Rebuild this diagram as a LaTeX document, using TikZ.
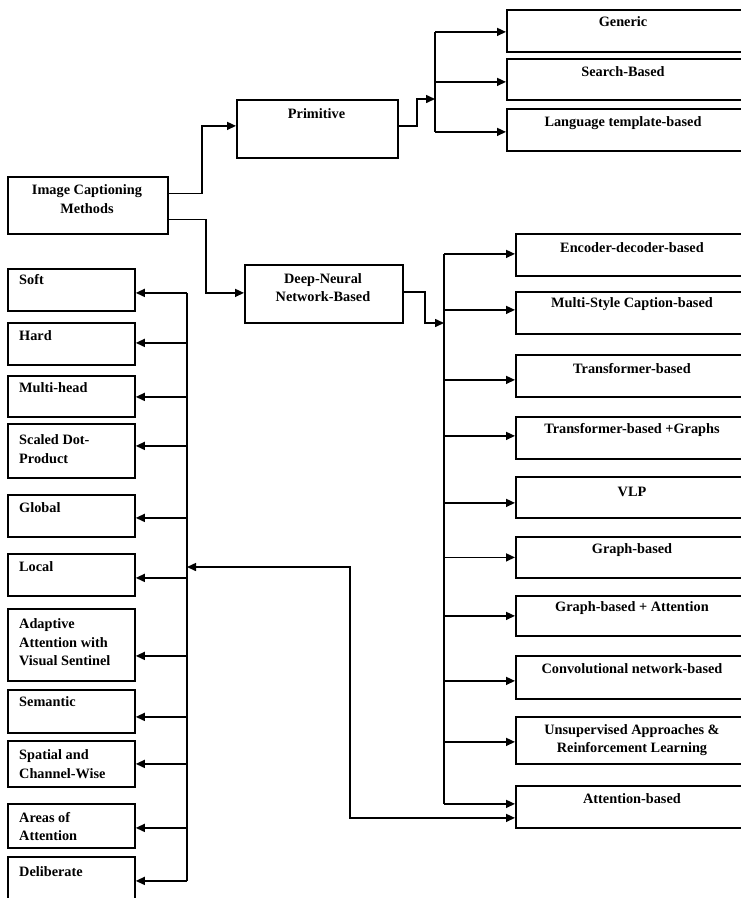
\documentclass[tikz,border=0pt]{standalone}
\usepackage{fontspec}
\setmainfont{Liberation Serif}
\usetikzlibrary{arrows.meta}
\begin{document}
\begin{tikzpicture}[x=1pt,y=-1pt,
  box/.style n args={2}{draw, line width=1.8pt, anchor=north west, inner sep=0pt,
    minimum width=#1, minimum height=#2},
  lbl/.style={font=\fontsize{14.3}{18.5}\selectfont\bfseries, inner sep=0pt, align=center},
  lbll/.style={lbl, align=left, anchor=west},
  ln/.style={line width=1.5pt},
  arr/.style={ln, -{Triangle[length=9pt,width=8pt]}},
  darr/.style={ln, {Triangle[length=9pt,width=8pt]}-{Triangle[length=9pt,width=8pt]}}]
\useasboundingbox (0,0) rectangle (740,898);

% ---------- root and first level ----------
\node[box={160}{57}] (icm) at (7,176) {};
\node[lbl] (icm-t) at (87,199) {Image Captioning\\Methods};
\node[box={161}{58}] (prim) at (236,99) {};
\node[lbl] (prim-t) at (316.5,114) {Primitive};
\node[box={158}{58}] (dnn) at (244,264) {};
\node[lbl] (dnn-t) at (323,287.5) {Deep-Neural\\Network-Based};

% ---------- primitive methods ----------
\node[box={244}{42}] (gen) at (506,9) {};
\node[lbl] (gen-t) at (623,22) {Generic};
\node[box={244}{41}] (sea) at (506,58) {};
\node[lbl] (sea-t) at (623,72) {Search-Based};
\node[box={244}{42}] (lan) at (506,108) {};
\node[lbl] (lan-t) at (623,123) {Language template-based};

% ---------- deep-neural-network-based methods ----------
\node[box={235}{42}] (enc) at (515,233) {};
\node[lbl] (enc-t) at (632,248) {Encoder-decoder-based};
\node[box={235}{42}] (ms) at (515,291) {};
\node[lbl] (ms-t) at (632,304) {Multi-Style Caption-based};
\node[box={235}{42}] (tr) at (515,354) {};
\node[lbl] (tr-t) at (632,369) {Transformer-based};
\node[box={235}{42}] (tg) at (515,416) {};
\node[lbl] (tg-t) at (632,430) {Transformer-based +Graphs};
\node[box={235}{41}] (vlp) at (515,476) {};
\node[lbl] (vlp-t) at (632,492) {VLP};
\node[box={235}{41}] (gb) at (515,536) {};
\node[lbl] (gb-t) at (632,550) {Graph-based};
\node[box={235}{40}] (ga) at (515,595) {};
\node[lbl] (ga-t) at (632,608) {Graph-based + Attention};
\node[box={235}{43}] (conv) at (515,655) {};
\node[lbl] (conv-t) at (632,669) {Convolutional network-based};
\node[box={235}{47}] (uns) at (515,716) {};
\node[lbl] (uns-t) at (632,740) {Unsupervised Approaches \&\\Reinforcement Learning};
\node[box={235}{42}] (att) at (515,785) {};
\node[lbl] (att-t) at (632,799) {Attention-based};

% ---------- attention types ----------
\node[box={127}{42}] (soft) at (7,268) {};
\node[lbll] (soft-t) at (19,280) {Soft};
\node[box={127}{42}] (hard) at (7,322) {};
\node[lbll] (hard-t) at (19,336) {Hard};
\node[box={127}{41}] (mhead) at (7,375) {};
\node[lbll] (mhead-t) at (19,388) {Multi-head};
\node[box={127}{54}] (sdp) at (7,423) {};
\node[lbll] (sdp-t) at (19,449) {Scaled Dot-\\Product};
\node[box={127}{42}] (glob) at (7,494) {};
\node[lbll] (glob-t) at (19,508) {Global};
\node[box={127}{42}] (loc) at (7,553) {};
\node[lbll] (loc-t) at (19,567) {Local};
\node[box={127}{72}] (adapt) at (7,608) {};
\node[lbll] (adapt-t) at (19,642.5) {Adaptive\\Attention with\\Visual Sentinel};
\node[box={127}{43}] (sem) at (7,689) {};
\node[lbll] (sem-t) at (19,702) {Semantic};
\node[box={127}{46}] (spat) at (7,740) {};
\node[lbll] (spat-t) at (19,764) {Spatial and\\Channel-Wise};
\node[box={127}{44}] (area) at (7,803) {};
\node[lbll] (area-t) at (19,826.5) {Areas of\\Attention};
\node[box={127}{44}] (delib) at (7,856) {};
\node[lbll] (delib-t) at (19,872) {Deliberate};

% ---------- root connectors ----------
\draw[arr] ([yshift=12pt]icm.east) -- ++(33,0) |- ([yshift=3pt]prim.west);
\draw[arr] ([yshift=-14pt]icm.east) -- ++(37,0) |- ([yshift=1pt]dnn.west);

% ---------- primitive branch ----------
\coordinate (tP) at (435,99);
\draw[arr] ([yshift=3pt]prim.east) -- ++(18,0) |- (tP);
\foreach \n/\s in {gen/-1, sea/-2.5, lan/-2} {
  \coordinate (\n-in) at ([yshift=\s pt]\n.west);
  \draw[arr] (tP |- \n-in) -- (\n-in);
}
\draw[ln] (tP |- gen-in) -- (tP |- lan-in);

% ---------- deep-neural branch ----------
\coordinate (tD) at (444,323);
\draw[arr] ([yshift=2pt]dnn.east) -- ++(21,0) |- (tD);
\foreach \n/\s in {enc/1, ms/3, tr/-4, tg/2, vlp/-5.5, gb/0, ga/0, conv/-3.5, uns/-1.5, att/3} {
  \coordinate (\n-in) at ([yshift=\s pt]\n.west);
  \draw[arr] (tD |- \n-in) -- (\n-in);
}
\draw[ln] (tD |- enc-in) -- (tD |- att-in);

% ---------- attention types branch ----------
\coordinate (tL) at (187,567);
\foreach \n/\s in {soft/-3, hard/1, mhead/-0.5, sdp/5, glob/-2, loc/-3, adapt/-11, sem/-5.5, spat/0, area/-2, delib/-2} {
  \coordinate (\n-in) at ([yshift=\s pt]\n.east);
  \draw[arr] (tL |- \n-in) -- (\n-in);
}
\draw[ln] (tL |- soft-in) -- (tL |- delib-in);
\draw[darr] (tL) -- ++(163,0) |- ([yshift=-11pt]att.west);
\end{tikzpicture}
\end{document}
